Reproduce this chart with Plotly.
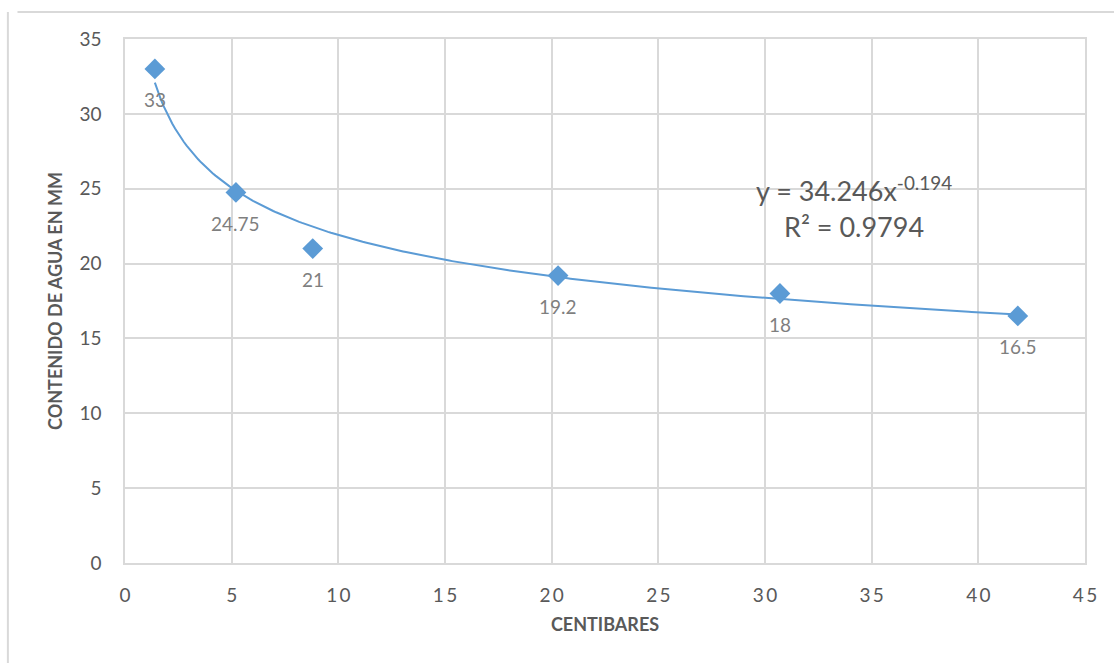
import numpy as np
import plotly.graph_objects as go

# Measured points: soil water content vs. tension
centibares = [1.4, 5.2, 8.8, 20.3, 30.7, 41.85]
contenido_mm = [33, 24.75, 21, 19.2, 18, 16.5]
etiquetas = ["33", "24.75", "21", "19.2", "18", "16.5"]

# Power trendline y = a * x^b
coef_a = 34.246
coef_b = -0.194
r2 = 0.9794

x_ticks = list(range(0, 50, 5))
y_ticks = list(range(0, 40, 5))

BLUE = "#5B9BD5"
GRID = "#D9D9D9"
TXT = "#595959"
FONT = "Lato, 'Open Sans', sans-serif"

x_fit = np.linspace(min(centibares), max(centibares), 300)
y_fit = coef_a * x_fit ** coef_b

fig = go.Figure()

fig.add_trace(go.Scatter(
    x=x_fit, y=y_fit, mode="lines",
    line=dict(color=BLUE, width=2),
    hoverinfo="skip", showlegend=False,
))

fig.add_trace(go.Scatter(
    x=centibares, y=contenido_mm, mode="markers",
    marker=dict(symbol="diamond", size=16, color=BLUE),
    showlegend=False,
))

# data labels under each marker
for xv, yv, lab in zip(centibares, contenido_mm, etiquetas):
    fig.add_annotation(
        x=xv, y=yv, text=lab, showarrow=False,
        yshift=-31, font=dict(family=FONT, size=19, color="#7F7F7F"),
    )

# trendline equation
fig.add_annotation(
    x=34.18, y=24.95, xref="x", yref="y",
    text=f"y = {coef_a}x<sup>{coef_b}</sup>",
    showarrow=False, align="center",
    font=dict(family=FONT, size=27, color=TXT),
)
fig.add_annotation(
    x=34.18, y=22.5, xref="x", yref="y",
    text=f"R² = {r2}",
    showarrow=False, align="center",
    font=dict(family=FONT, size=27, color=TXT),
)

# outer chart-area frame (top and left edges visible)
fig.add_shape(type="line", xref="paper", yref="paper",
              x0=-0.112, x1=1.2, y0=1.0516, y1=1.0516,
              line=dict(color=GRID, width=2))
fig.add_shape(type="line", xref="paper", yref="paper",
              x0=-0.122, x1=-0.122, y0=1.0516, y1=-0.3,
              line=dict(color=GRID, width=2))

spaced = ["\u2009".join(str(v)) for v in x_ticks]

fig.update_layout(
    width=1114, height=663,
    margin=dict(l=125, r=29, t=39, b=100),
    paper_bgcolor="white", plot_bgcolor="white",
    font=dict(family=FONT, color=TXT),
    xaxis=dict(
        range=[0, 45], tickvals=x_ticks, ticktext=spaced,
        showgrid=True, gridcolor=GRID, gridwidth=1.5,
        showline=True, linecolor=GRID, linewidth=1.5, mirror=True,
        zeroline=False, ticks="", ticklabelstandoff=14,
        tickfont=dict(family=FONT, size=19, color=TXT),
        title=dict(text="<b>CENTIBARES</b>", standoff=14,
                   font=dict(family=FONT, size=18, color=TXT)),
    ),
    yaxis=dict(
        range=[0, 35], tickvals=y_ticks,
        showgrid=True, gridcolor=GRID, gridwidth=1.5,
        showline=True, linecolor=GRID, linewidth=1.5, mirror=True,
        zeroline=False, ticks="", ticklabelstandoff=18,
        tickfont=dict(family=FONT, size=19, color=TXT),
        title=dict(text="<b>CONTENIDO DE AGUA EN MM</b>", standoff=12,
                   font=dict(family=FONT, size=18, color=TXT)),
    ),
)

fig.write_html("out.html")
